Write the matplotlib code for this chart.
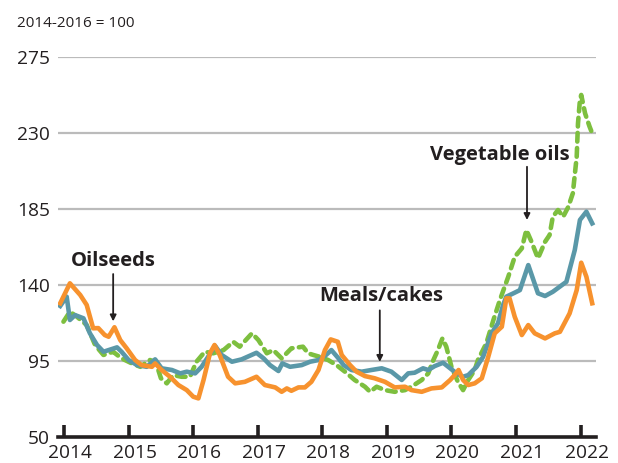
import numpy as np
import matplotlib
matplotlib.use("Agg")
import matplotlib.pyplot as plt
from matplotlib.transforms import ScaledTranslation

plt.rcParams['font.family'] = ['Open Sans', 'DejaVu Sans']

# Oilseeds (orange)
oil_t = [2013.94, 2014.09, 2014.25, 2014.35, 2014.45, 2014.53, 2014.63, 2014.69, 2014.78, 2014.87,
         2014.97, 2015.10, 2015.20, 2015.36, 2015.41, 2015.51, 2015.64, 2015.77, 2015.90, 2016.00,
         2016.08, 2016.16, 2016.26, 2016.33, 2016.41, 2016.54, 2016.65, 2016.80, 2016.98, 2017.11,
         2017.27, 2017.37, 2017.45, 2017.52, 2017.63, 2017.73, 2017.83, 2017.94, 2018.04, 2018.13,
         2018.24, 2018.30, 2018.43, 2018.53, 2018.66, 2018.81, 2018.97, 2019.12, 2019.28, 2019.38,
         2019.54, 2019.69, 2019.85, 2019.98, 2020.05, 2020.11, 2020.18, 2020.26, 2020.36, 2020.47,
         2020.57, 2020.67, 2020.78, 2020.85, 2020.90, 2020.98, 2021.09, 2021.19, 2021.29, 2021.45,
         2021.60, 2021.68, 2021.83, 2021.94, 2022.01, 2022.09, 2022.18]
oil_v = [129.2, 141.0, 134.1, 128.2, 114.4, 114.5, 110.4, 109.4, 115.0, 107.4,
         102.5, 95.6, 92.6, 91.6, 93.6, 89.7, 85.7, 80.8, 77.8, 73.9,
         72.9, 83.8, 99.7, 104.5, 98.6, 85.7, 81.8, 82.7, 85.7, 80.8,
         79.4, 76.8, 78.8, 77.4, 79.4, 79.4, 82.7, 89.7, 101.5, 107.8,
         106.4, 98.6, 92.6, 88.7, 86.1, 84.8, 82.7, 79.4, 79.8, 77.8,
         76.8, 78.8, 79.4, 83.8, 86.7, 89.7, 83.8, 80.8, 81.8, 84.8,
         97.5, 111.4, 115.3, 132.1, 132.1, 121.2, 110.4, 116.3, 111.4, 108.4,
         111.4, 112.3, 123.2, 137.0, 153.2, 144.9, 129.2]

# Meals/cakes (teal)
meal_t = [2013.94, 2014.04, 2014.09, 2014.17, 2014.30, 2014.40, 2014.51, 2014.61, 2014.69, 2014.82,
          2014.89, 2015.00, 2015.13, 2015.28, 2015.41, 2015.51, 2015.67, 2015.80, 2015.90, 2016.03,
          2016.13, 2016.34, 2016.44, 2016.60, 2016.75, 2016.98, 2017.09, 2017.19, 2017.32, 2017.38,
          2017.50, 2017.68, 2017.81, 2017.94, 2018.04, 2018.14, 2018.25, 2018.33, 2018.45, 2018.61,
          2018.76, 2018.92, 2019.07, 2019.23, 2019.33, 2019.43, 2019.56, 2019.64, 2019.74, 2019.87,
          2019.98, 2020.08, 2020.18, 2020.26, 2020.39, 2020.49, 2020.62, 2020.72, 2020.80, 2020.85,
          2020.96, 2021.06, 2021.19, 2021.26, 2021.34, 2021.45, 2021.57, 2021.78, 2021.91, 2021.99,
          2022.09, 2022.18]
meal_v = [127.6, 133.1, 119.3, 122.2, 120.3, 111.4, 104.5, 100.5, 101.5, 103.1,
          100.5, 95.6, 92.6, 91.6, 96.0, 90.7, 89.7, 87.7, 88.7, 87.7,
          91.6, 103.9, 98.6, 94.6, 96.0, 99.9, 96.6, 92.6, 89.1, 93.6,
          91.6, 92.6, 94.6, 95.6, 98.0, 101.5, 96.6, 92.6, 89.7, 88.7,
          89.7, 90.7, 88.7, 83.8, 87.7, 88.1, 90.7, 89.7, 92.0, 94.0,
          90.7, 87.7, 85.7, 86.7, 91.6, 97.5, 111.4, 117.3, 128.2, 133.1,
          135.1, 137.0, 151.8, 144.0, 135.1, 133.5, 136.0, 141.9, 160.7, 178.5,
          183.4, 176.5]

# Vegetable oils (green, dashed)
veg_t = [2013.99, 2014.09, 2014.20, 2014.35, 2014.48, 2014.61, 2014.76, 2014.89, 2015.05, 2015.18,
         2015.33, 2015.42, 2015.50, 2015.59, 2015.69, 2015.82, 2015.95, 2016.05, 2016.18, 2016.31,
         2016.47, 2016.62, 2016.72, 2016.91, 2017.01, 2017.14, 2017.24, 2017.37, 2017.52, 2017.70,
         2017.78, 2017.86, 2017.96, 2018.09, 2018.22, 2018.35, 2018.50, 2018.66, 2018.74, 2018.84,
         2018.97, 2019.12, 2019.28, 2019.38, 2019.54, 2019.64, 2019.72, 2019.79, 2019.86, 2019.92,
         2020.00, 2020.10, 2020.18, 2020.26, 2020.36, 2020.41, 2020.54, 2020.65, 2020.75, 2020.88,
         2020.98, 2021.09, 2021.16, 2021.24, 2021.34, 2021.45, 2021.52, 2021.57, 2021.65, 2021.73,
         2021.81, 2021.88, 2021.94, 2021.96, 2021.99, 2022.01, 2022.07, 2022.14, 2022.18]
veg_v = [118.3, 124.2, 121.2, 116.3, 104.5, 98.6, 100.5, 96.6, 93.6, 91.6,
         95.6, 94.4, 84.8, 81.8, 86.7, 85.7, 85.7, 94.6, 100.5, 99.6,
         101.5, 106.4, 103.5, 111.4, 107.4, 99.6, 101.5, 96.6, 102.5, 103.5,
         99.6, 98.6, 97.5, 95.6, 92.6, 88.7, 83.8, 79.8, 76.8, 79.8,
         77.8, 76.8, 77.8, 79.8, 83.8, 87.7, 95.6, 101.5, 108.4, 103.5,
         91.6, 82.7, 77.8, 83.8, 89.7, 95.6, 105.5, 119.3, 131.1, 144.9,
         156.7, 161.7, 172.6, 165.6, 155.8, 165.6, 169.6, 180.4, 184.4, 180.4,
         186.3, 194.3, 216.0, 235.7, 249.5, 252.5, 241.6, 233.7, 229.8]

years = [2014, 2015, 2016, 2017, 2018, 2019, 2020, 2021, 2022]
yticks = [50, 95, 140, 185, 230, 275]

ink = '#231F20'
c_oil = '#F7922E'
c_meal = '#5A98A8'
c_veg = '#7DBF3F'

fig = plt.figure(figsize=(6.18, 4.63), dpi=100)
ax = fig.add_axes([0.094, 0.056, 0.87, 0.821])

for y in yticks[1:]:
    ax.axhline(y, color='#BBBBBB', lw=1.6, zorder=1)

ax.plot(meal_t, meal_v, color=c_meal, lw=3.3, solid_joinstyle='round', zorder=3)
ax.plot(veg_t, veg_v, color=c_veg, lw=3.3, ls=(0, (1.9, 1.4)), dash_capstyle='round', zorder=2)
ax.plot(oil_t, oil_v, color=c_oil, lw=3.3, solid_joinstyle='round', zorder=4)

ax.set_xlim(2013.907, 2022.235)
ax.set_ylim(50, 275)
ax.set_yticks(yticks)
ax.set_xticks(years)
ax.set_xticklabels([str(y) for y in years])
for s in ['top', 'right', 'left']:
    ax.spines[s].set_visible(False)
ax.spines['bottom'].set_linewidth(2.6)
ax.spines['bottom'].set_color(ink)
ax.tick_params(axis='y', length=0, pad=6, labelsize=13.8, labelcolor=ink)
ax.tick_params(axis='x', direction='in', length=9, width=2.6, color=ink, pad=5,
               labelsize=13.8, labelcolor=ink)
off = ScaledTranslation(6 / 100, 0, fig.dpi_scale_trans)
for lab in ax.get_xticklabels():
    lab.set_transform(lab.get_transform() + off)

fig.text(0.027, 0.950, '2014-2016 = 100', fontsize=11, color=ink, va='center', ha='left')

arrow = dict(arrowstyle='-|>', color=ink, lw=1.3, mutation_scale=9, shrinkA=0, shrinkB=0)
ax.text(2014.77, 154.0, 'Oilseeds', fontsize=14.5, fontweight='bold', color=ink,
        ha='center', va='center')
ax.annotate('', xy=(2014.76, 118.5), xytext=(2014.76, 146.5), arrowprops=arrow)
ax.text(2018.91, 133.5, 'Meals/cakes', fontsize=14.5, fontweight='bold', color=ink,
        ha='center', va='center')
ax.annotate('', xy=(2018.89, 94.5), xytext=(2018.89, 125.0), arrowprops=arrow)
ax.text(2020.75, 217.0, 'Vegetable oils', fontsize=14.5, fontweight='bold', color=ink,
        ha='center', va='center')
ax.annotate('', xy=(2021.17, 178.5), xytext=(2021.17, 210.0), arrowprops=arrow)

fig.savefig('out.png', dpi=100)
